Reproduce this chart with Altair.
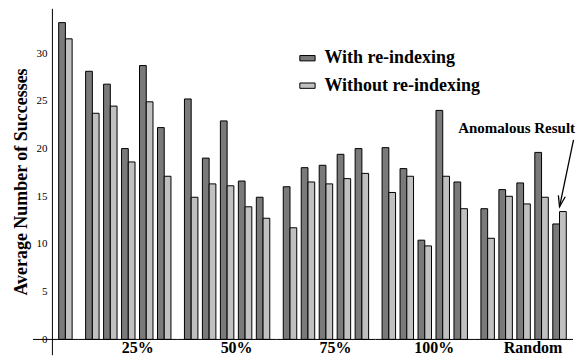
import altair as alt
import pandas as pd

groups = [" ", "25%", "50%", "75%", "100%", "Random"]
pairs_per_group = [1, 5, 5, 5, 5, 5]
series_names = ["With re-indexing", "Without re-indexing"]
with_reindex = [33.2,
                28.1, 26.75, 20.0, 28.7, 22.2,
                25.2, 19.0, 22.9, 16.6, 14.9,
                16.0, 18.0, 18.25, 19.4, 20.0,
                20.1, 17.9, 10.4, 24.0, 16.5,
                13.7, 15.7, 16.4, 19.6, 12.1]
without_reindex = [31.5,
                   23.7, 24.45, 18.6, 24.9, 17.1,
                   14.9, 16.3, 16.1, 13.9, 12.7,
                   11.7, 16.5, 16.3, 16.85, 17.4,
                   15.4, 17.1, 9.8, 17.1, 13.7,
                   10.6, 15.0, 14.2, 14.9, 13.4]
y_ticks = [0, 5, 10, 15, 20, 25, 30]
note_text = "Anomalous Result"
note_y = 22.2
arrow_tip_y = 13.9
arrow_tail_y = 20.9

rows = []
i = 0
for g, (name, n) in enumerate(zip(groups, pairs_per_group)):
    for p in range(n):
        slot = f"g{g}p{p + 1}"
        rows.append(dict(kind="bar", group=name, slot=slot, series=series_names[0], value=with_reindex[i]))
        rows.append(dict(kind="bar", group=name, slot=slot, series=series_names[1], value=without_reindex[i]))
        i += 1
    rows.append(dict(kind="base", group=name))
rows.append(dict(kind="stub", group=groups[0]))
rows.append(dict(kind="note", group="Random", slot="g5p3", value=note_y, text=note_text))
rows.append(dict(kind="arrow", group="Random", slot="g5p5", slot2="g5p5", value=arrow_tip_y, value2=arrow_tail_y))
df = pd.DataFrame(rows)

FONT = "Liberation Serif"
STEP = 18
P_IN, P_OUT = 0.25, 0.375
y_scale = alt.Scale(domain=[-1.6, 34.7], nice=False, zero=False)

y_axis = alt.Axis(values=y_ticks, ticks=False, grid=False, domainColor="black",
                  domainWidth=1, labelFont=FONT, labelFontSize=11, labelColor="black",
                  labelPadding=5, title="Average Number of Successes", titleFont=FONT,
                  titleFontSize=18, titleFontWeight="bold", titleColor="black",
                  titlePadding=5)

color_enc = alt.Color(
    "series:N",
    scale=alt.Scale(domain=series_names, range=["#7a7a7a", "#c0c0c0"]),
    legend=alt.Legend(title=None, orient="none", legendX=247, legendY=41,
                      symbolType="M-1,-0.35H1V0.35H-1Z", symbolSize=234,
                      symbolStrokeColor="black", symbolStrokeWidth=1, symbolOpacity=1,
                      labelFont=FONT, labelFontSize=18, labelFontWeight="bold",
                      labelColor="black", labelOffset=8, rowPadding=9.5),
)


def panel(gi):
    name = groups[gi]
    n = pairs_per_group[gi]
    width = STEP * (n - P_IN + 2 * P_OUT)
    sub = df[df["group"] == name]
    x_axis = alt.Axis(labels=False, ticks=False, domain=False, grid=False,
                      title=(name if name.strip() else None),
                      titleFont=FONT, titleFontSize=16, titleFontWeight="bold",
                      titleColor="black", titlePadding=-15, titleX=width / 2 + 9)
    x_enc = alt.X("slot:N", axis=x_axis, scale=alt.Scale(paddingInner=P_IN, paddingOuter=P_OUT))
    yax = y_axis if gi == 0 else None
    y_enc = alt.Y("value:Q", scale=y_scale, axis=yax)
    base = alt.Chart(sub)

    layers = [
        base.transform_filter("datum.kind == 'bar'").mark_bar(stroke="black", strokeWidth=1).encode(
            x=x_enc,
            xOffset=alt.XOffset("series:N", scale=alt.Scale(paddingInner=0, paddingOuter=0)),
            y=y_enc,
            color=color_enc,
        ),
        base.transform_filter("datum.kind == 'base'").mark_rule(color="black", strokeWidth=1).encode(
            y=alt.YDatum(0, scale=y_scale, axis=yax)
        ),
    ]
    if gi == 0:
        layers.append(
            base.transform_filter("datum.kind == 'stub'").mark_rule(color="black", strokeWidth=1).encode(
                x=alt.value(-19), x2=alt.value(0), y=alt.YDatum(0, scale=y_scale, axis=yax)
            )
        )
    if name == "Random":
        layers += [
            base.transform_filter("datum.kind == 'note'").mark_text(
                font=FONT, fontSize=15, fontWeight="bold", color="black",
                baseline="middle", align="center", dx=-7
            ).encode(x=x_enc, y=y_enc, text="text:N"),
            base.transform_filter("datum.kind == 'arrow'").mark_rule(
                color="black", strokeWidth=1.3, x2Offset=14
            ).encode(x=x_enc, y=y_enc, x2=alt.X2("slot2:N"), y2="value2:Q"),
            base.transform_filter("datum.kind == 'arrow'").mark_point(
                shape="M-0.32,-1L0,0L0.32,-1", size=484, angle=12, filled=False,
                stroke="black", strokeWidth=1.3, opacity=1
            ).encode(x=x_enc, y=y_enc),
        ]
    return alt.layer(*layers).properties(width=width, height=347)


chart = alt.hconcat(*[panel(g) for g in range(len(groups))], spacing=0, bounds="flush").resolve_scale(
    x="independent", y="shared", color="shared"
).properties(
    padding={"left": 5, "top": 0, "right": 0, "bottom": 0}
).configure_view(stroke=None).configure_concat(spacing=0)

chart.save("out.html", embed_options={"renderer": "svg", "actions": False})
